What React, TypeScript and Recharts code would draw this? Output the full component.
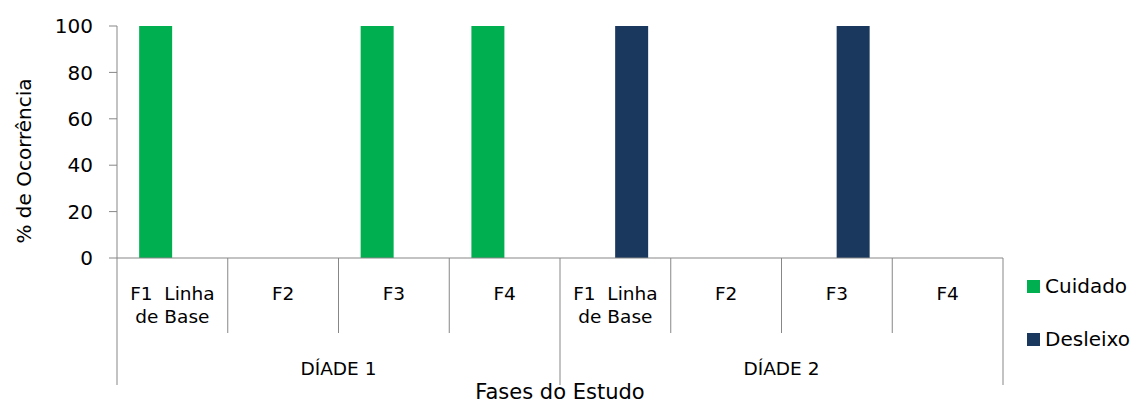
import { BarChart, Bar, XAxis, YAxis } from 'recharts'

// categories (two levels)
const phases = ['F1  Linha\nde Base', 'F2', 'F3', 'F4', 'F1  Linha\nde Base', 'F2', 'F3', 'F4']
const dyads = ['DÍADE 1', 'DÍADE 2']
const GROUP_SIZE = 4

// % de ocorrência
const cuidado = [100, 0, 100, 100, 0, 0, 0, 0]
const desleixo = [0, 0, 0, 0, 100, 0, 100, 0]

const yTicks = [0, 20, 40, 60, 80, 100]

const series = [
  { key: 'cuidado', name: 'Cuidado', color: '#00B050' },
  { key: 'desleixo', name: 'Desleixo', color: '#1A385E' },
]

const data = phases.map((phase, i) => ({
  phase,
  cuidado: cuidado[i],
  desleixo: desleixo[i],
}))

const CHART_W = 1137
const CHART_H = 403
const MARGIN = { top: 26, right: 134, bottom: 0, left: 0 }
const Y_AXIS_W = 117
const PLOT_H = 232
const X_AXIS_H = CHART_H - MARGIN.top - PLOT_H
const BAND = (CHART_W - MARGIN.left - MARGIN.right - Y_AXIS_W) / phases.length
const AXIS = '#878787'
const FONT = '"DejaVu Sans", Verdana, sans-serif'

const PhaseTick = (props: any) => {
  const { x, y, payload } = props
  const i = payload.index
  const half = BAND / 2
  const pos = i % GROUP_SIZE
  const lines = String(payload.value).split('\n')
  return (
    <g>
      {i === 0 && <line x1={x - half} x2={x - half} y1={y} y2={y + 127} stroke={AXIS} />}
      <line
        x1={x + half}
        x2={x + half}
        y1={y}
        y2={y + (pos === GROUP_SIZE - 1 ? 127 : 75)}
        stroke={AXIS}
      />
      {lines.map((l, k) => (
        <text
          key={k}
          x={x}
          y={y + 42 + k * 23}
          textAnchor="middle"
          fontSize={18.5}
          fill="#000"
          style={{ whiteSpace: 'pre' }}
        >
          {l}
        </text>
      ))}
      {pos === 1 && (
        <text x={x + half} y={y + 117} textAnchor="middle" fontSize={18.5} fill="#000">
          {dyads[Math.floor(i / GROUP_SIZE)]}
        </text>
      )}
    </g>
  )
}

const YTitle = ({ viewBox }: any) => {
  const cy = viewBox.y + viewBox.height / 2 + 19
  const x = 31
  return (
    <text x={x} y={cy} transform={`rotate(-90 ${x} ${cy})`} textAnchor="middle" fontSize={20} fill="#000">
      % de Ocorrência
    </text>
  )
}

export default function App() {
  return (
    <div style={{ position: 'absolute', left: 0, top: 0, width: CHART_W, height: CHART_H, fontFamily: FONT, background: '#fff' }}>
      <BarChart width={CHART_W} height={CHART_H} data={data} margin={MARGIN} barCategoryGap="20%" barGap={0}>
        <XAxis
          dataKey="phase"
          interval={0}
          height={X_AXIS_H}
          tickSize={0}
          tickMargin={0}
          tickLine={false}
          axisLine={{ stroke: AXIS }}
          tick={<PhaseTick />}
          label={{ value: 'Fases do Estudo', position: 'insideBottom', offset: 4, fontSize: 21, fill: '#000' }}
        />
        <YAxis
          width={Y_AXIS_W}
          domain={[0, 100]}
          ticks={yTicks}
          interval={0}
          tickSize={8}
          tickMargin={16}
          tick={{ fontSize: 20, fill: '#000' }}
          tickLine={{ stroke: AXIS }}
          axisLine={{ stroke: AXIS }}
          label={<YTitle />}
        />
        {series.map((s) => (
          <Bar key={s.key} dataKey={s.key} name={s.name} fill={s.color} isAnimationActive={false} />
        ))}
      </BarChart>
      {series.map((s, i) => (
        <div
          key={s.key}
          style={{
            position: 'absolute',
            left: 1027,
            top: 276 + i * 53,
            height: 20,
            display: 'flex',
            alignItems: 'center',
            fontSize: 20,
            lineHeight: '20px',
            color: '#000',
            whiteSpace: 'nowrap',
          }}
        >
          <span style={{ display: 'inline-block', width: 13, height: 13, background: s.color, marginRight: 5 }} />
          {s.name}
        </div>
      ))}
    </div>
  )
}
